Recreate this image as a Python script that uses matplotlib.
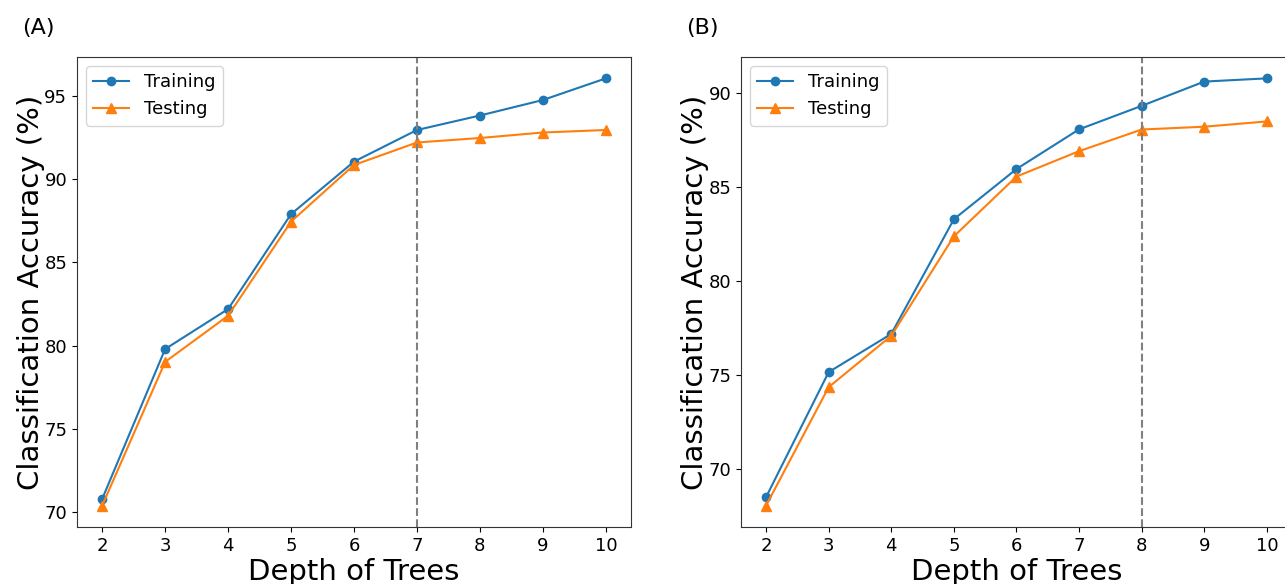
import matplotlib
matplotlib.use("Agg")
import matplotlib.pyplot as plt

depth = [2, 3, 4, 5, 6, 7, 8, 9, 10]
train_a = [70.8, 79.8, 82.2, 87.9, 91.05, 92.95, 93.82, 94.75, 96.05]
test_a = [70.4, 79.03, 81.8, 87.45, 90.85, 92.2, 92.47, 92.8, 92.95]
train_b = [68.5, 75.15, 77.18, 83.28, 85.95, 88.06, 89.31, 90.6, 90.77]
test_b = [68.05, 74.35, 77.08, 82.37, 85.55, 86.9, 88.05, 88.2, 88.48]
vline_a = 7
vline_b = 8
panels = ["(A)", "(B)"]

fig = plt.figure(figsize=(12.85, 5.84), dpi=100)
W, H = 1285, 584
ax1 = fig.add_axes([77 / W, 1 - 527 / H, 554 / W, 470 / H])
ax2 = fig.add_axes([741 / W, 1 - 527 / H, 551 / W, 470 / H])

for ax, tr, te, vl in [(ax1, train_a, test_a, vline_a), (ax2, train_b, test_b, vline_b)]:
    ax.plot(depth, tr, marker="o", color="#1f77b4", label="Training", markersize=6, linewidth=1.5)
    ax.plot(depth, te, marker="^", color="#ff7f0e", label="Testing", markersize=7, linewidth=1.5)
    ax.axvline(vl, color="gray", linestyle="--", linewidth=1.5)
    ax.set_xticks(depth)
    ax.tick_params(labelsize=13)
    ax.set_xlabel("Depth of Trees", fontsize=21, labelpad=2)
    ax.set_ylabel("Classification Accuracy (%)", fontsize=21)
    ax.legend(loc="upper left", fontsize=13)
    for s in ax.spines.values():
        s.set_color("#333333")

ax1.yaxis.set_label_coords(-0.058, 0.5)
ax2.yaxis.set_label_coords(-0.058, 0.5)

fig.text(22 / W, 1 - 28 / H, panels[0], fontsize=16, va="center", ha="left")
fig.text(686 / W, 1 - 28 / H, panels[1], fontsize=16, va="center", ha="left")

fig.savefig("out.png", dpi=100)
